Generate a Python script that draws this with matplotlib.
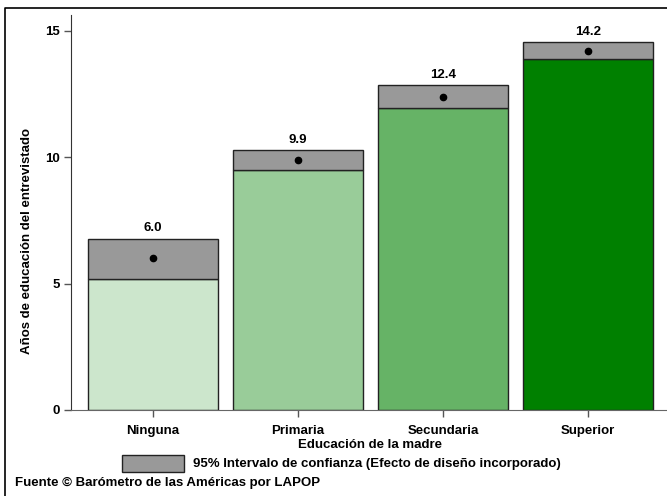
import matplotlib
matplotlib.use("Agg")
import matplotlib.pyplot as plt
from matplotlib.patches import Rectangle
from matplotlib.lines import Line2D
import numpy as np

categories = ["Ninguna", "Primaria", "Secundaria", "Superior"]
means = [6.0, 9.9, 12.4, 14.2]
ci_low = [5.18, 9.50, 11.94, 13.88]
ci_high = [6.78, 10.30, 12.86, 14.57]
bar_colors = ["#cce6cc", "#99cc99", "#66b366", "#008000"]
mean_labels = ["6.0", "9.9", "12.4", "14.2"]
yticks = [0, 5, 10, 15]

plt.rcParams['font.family'] = ['Liberation Sans', 'DejaVu Sans']
plt.rcParams['font.weight'] = 'bold'

W, H = 667, 496
fig = plt.figure(figsize=(W / 100, H / 100), dpi=100)
ax = fig.add_axes([71 / W, 1 - 410 / H, (667 - 71) / W, (410 - 15) / H])

x = np.arange(len(categories))
low = np.array(ci_low)
high = np.array(ci_high)
width = 0.897
ax.bar(x, low, width=width, color=bar_colors, edgecolor="#222222", linewidth=1.0, zorder=2)
ax.bar(x, high - low, bottom=low, width=width, color="#999999", edgecolor="#222222", linewidth=1.0, zorder=2)
ax.plot(x, means, 'o', color='black', markersize=4.5, zorder=3)
for xi, hi, lab in zip(x, high, mean_labels):
    ax.annotate(lab, (xi, hi), xytext=(0, 3), textcoords='offset points',
                ha='center', va='bottom', fontsize=9.5, fontweight='bold')

ax.set_xlim(-0.566, 3.545)
ax.set_ylim(0, 15.63)
ax.set_yticks(yticks)
ax.set_yticklabels([str(t) for t in yticks])
ax.set_xticks(x)
ax.set_xticklabels(categories)
ax.tick_params(axis='both', labelsize=9.5, length=5, width=1, color='#555555')
ax.tick_params(axis='x', pad=6)
ax.tick_params(axis='y', pad=3)
for lab in ax.get_xticklabels() + ax.get_yticklabels():
    lab.set_fontweight('bold')
for s in ['top', 'right']:
    ax.spines[s].set_visible(False)
ax.spines['left'].set_color('#333333')
ax.spines['bottom'].set_color('#666666')

fig.text(370 / W, 1 - 445 / H, "Educación de la madre", ha='center', va='center',
         fontsize=9.5, fontweight='bold')
fig.text(27 / W, 1 - 241 / H, "Años de educación del entrevistado", ha='center', va='center',
         rotation=90, fontsize=9.5, fontweight='bold')

fig.patches.append(Rectangle((122 / W, 1 - 472 / H), 62 / W, 17 / H, transform=fig.transFigure,
                             facecolor="#999999", edgecolor="#222222", linewidth=1.0))
fig.text(193 / W, 1 - 464 / H, "95% Intervalo de confianza (Efecto de diseño incorporado)",
         ha='left', va='center', fontsize=9.5, fontweight='bold')
fig.text(15 / W, 1 - 483 / H, "Fuente © Barómetro de las Américas por LAPOP",
         ha='left', va='center', fontsize=9.5, fontweight='bold')

# outer frame
fig.lines.append(Line2D([5 / W, 5 / W, 1.0], [0.0, 1 - 8 / H, 1 - 8 / H], transform=fig.transFigure,
                        color='black', linewidth=1.2))

fig.savefig("out.png", dpi=100)
